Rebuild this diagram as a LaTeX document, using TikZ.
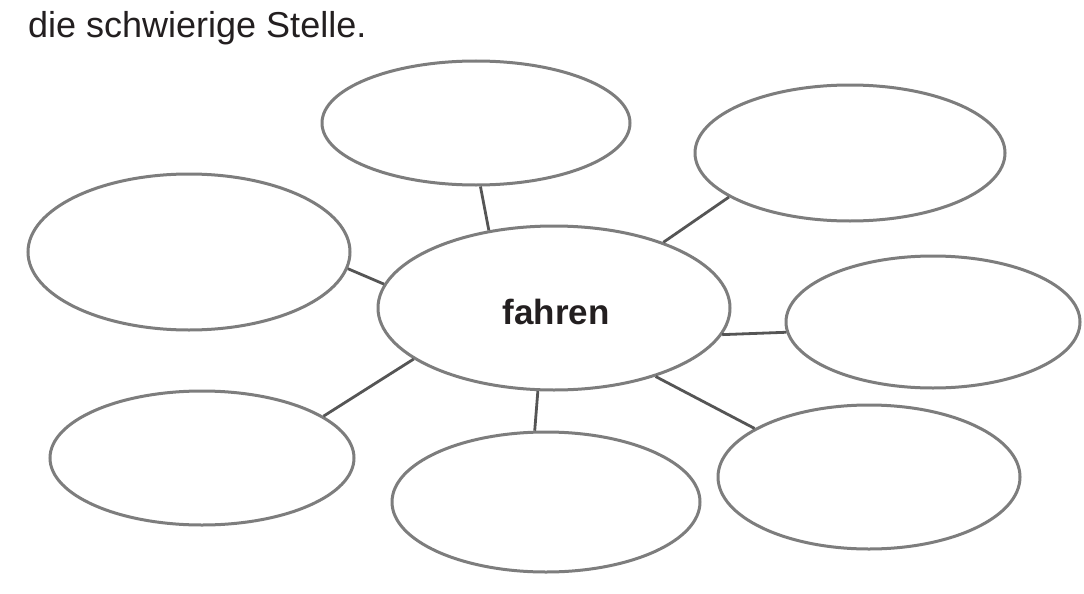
\documentclass[tikz,border=0pt]{standalone}
\usepackage{fontspec}
\setmainfont{Liberation Sans}
\usetikzlibrary{shapes.geometric}
\definecolor{pencil}{RGB}{125,125,125}
\definecolor{pencildark}{RGB}{85,85,85}
\definecolor{ink}{RGB}{35,31,32}
\begin{document}
\begin{tikzpicture}[x=1pt,y=-1pt,
  bubble/.style={ellipse, draw=pencil, line width=3pt, inner sep=0pt, fill=white},
  link/.style={draw=pencildark, line width=2.8pt},
  title/.style={anchor=base west, inner sep=0pt, text=ink, font=\fontsize{36}{40}\selectfont},
  word/.style={text=ink, font=\fontsize{35}{40}\selectfont\bfseries}]
\useasboundingbox[fill=white] (0,0) rectangle (1084,594);
\node[title] (head) at (28,38) {die schwierige Stelle.};
% outer bubbles
\node[bubble, minimum width=308pt, minimum height=124pt] (t)  at (476,123) {};
\node[bubble, minimum width=310pt, minimum height=136pt] (tr) at (850,153) {};
\node[bubble, minimum width=322pt, minimum height=156pt] (l)  at (189,252) {};
\node[bubble, minimum width=294pt, minimum height=132pt] (r)  at (933,322) {};
\node[bubble, minimum width=304pt, minimum height=134pt] (bl) at (202,458) {};
\node[bubble, minimum width=308pt, minimum height=140pt] (b)  at (546,502) {};
\node[bubble, minimum width=302pt, minimum height=144pt] (br) at (869,477) {};
% centre
\node[bubble, minimum width=352pt, minimum height=164pt] (c) at (554,308) {};
\node[word] (w) at (556,312) {fahren};
% connectors
\draw[link] (c.130) -- (t.-86.5);
\draw[link] (c.31.4) -- (tr.200.6);
\draw[link] (c.172) -- (l.-6.4);
\draw[link] (c.-9.8) -- (r.184.3);
\draw[link] (c.200.3) -- (bl.19);
\draw[link] (c.259.3) -- (b.99.3);
\draw[link] (c.-34) -- (br.157.3);
\end{tikzpicture}
\end{document}
